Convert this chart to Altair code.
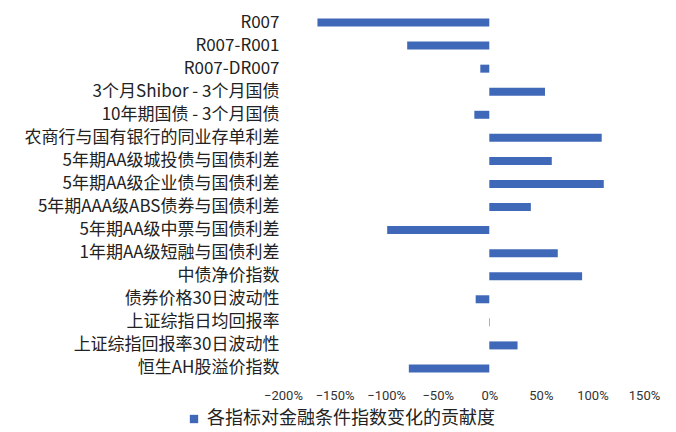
import altair as alt
import pandas as pd

categories = [
    "R007", "R007-R001", "R007-DR007", "3个月Shibor - 3个月国债", "10年期国债 - 3个月国债",
    "农商行与国有银行的同业存单利差", "5年期AA级城投债与国债利差", "5年期AA级企业债与国债利差",
    "5年期AAA级ABS债券与国债利差", "5年期AA级中票与国债利差", "1年期AA级短融与国债利差",
    "中债净价指数", "债券价格30日波动性", "上证综指日均回报率", "上证综指回报率30日波动性",
    "恒生AH股溢价指数",
]
values = [-1.666, -0.796, -0.087, 0.54, -0.145, 1.09, 0.606, 1.11, 0.403, -0.99,
          0.664, 0.90, -0.132, 0.005, 0.274, -0.78]
series_name = "各指标对金融条件指数变化的贡献度"
tick_values = [-2, -1.5, -1, -0.5, 0, 0.5, 1, 1.5]

df = pd.DataFrame({"cat": categories, "val": values, "series": series_name})

font = "Noto Sans CJK SC"

chart = alt.Chart(df).mark_bar(size=8).encode(
    y=alt.Y("cat:N", sort=categories, title=None,
            scale=alt.Scale(paddingOuter=0, paddingInner=0, range=[3, 372]),
            axis=alt.Axis(domain=False, ticks=False, labelFontSize=17, labelColor="#222",
                          labelFont=font, labelPadding=4, labelLimit=400)),
    x=alt.X("val:Q", title=None,
            scale=alt.Scale(domain=[-2, 1.5], nice=False),
            axis=alt.Axis(values=tick_values, format=".0%", grid=False, domain=False,
                          ticks=False, labelFontSize=13, labelColor="#333",
                          labelFont="Roboto", labelPadding=5, labelOverlap=False,
                          labelFlush=False)),
    color=alt.Color("series:N", scale=alt.Scale(range=["#4068B8"]),
                    legend=alt.Legend(title=None, orient="none", legendX=-98, legendY=402,
                                      symbolType="square",
                                      labelFontSize=18, labelFont=font, labelColor="#222",
                                      symbolSize=70, labelLimit=500)),
).properties(
    width=361, height=376,
    autosize=alt.AutoSizeParams(type="none"),
    padding={"left": 275, "top": 0, "right": 24, "bottom": 48},
).configure_view(stroke=None)

chart.save("out.html", embed_options={"renderer": "svg", "actions": False})
